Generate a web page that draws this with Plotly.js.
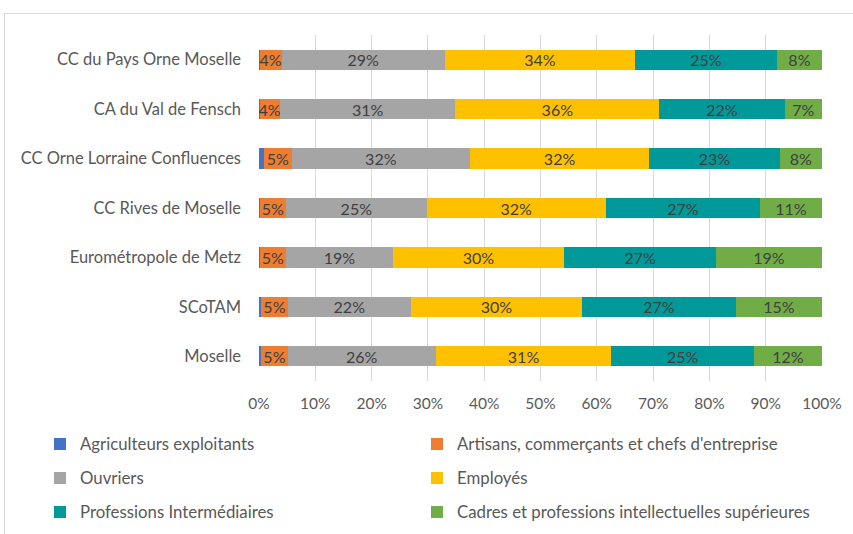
<!DOCTYPE html>
<html><head><meta charset="utf-8">
<script src="https://cdn.plot.ly/plotly-3.0.1.min.js"></script>
<style>
html,body{margin:0;padding:0;background:#fff;overflow:hidden}
#chart{position:absolute;left:0;top:0;width:853px;height:534px}
#frame{position:absolute;left:4px;top:13px;width:849px;height:521px;border-top:1px solid #d9d9d9;border-left:1px solid #d9d9d9;pointer-events:none}
</style></head>
<body><div id="chart"></div><div id="frame"></div>
<script>
const categories = ["CC du Pays Orne Moselle","CA du Val de Fensch","CC Orne Lorraine Confluences","CC Rives de Moselle","Eurométropole de Metz","SCoTAM","Moselle"];
const agriculteurs = [0.1,0.1,0.9,0.1,0.1,0.4,0.4];
const artisans     = [3.9,3.6,4.9,4.7,4.7,4.7,4.7];
const ouvriers     = [29.0,31.2,31.7,25.0,19.0,21.9,26.3];
const employes     = [33.8,36.2,31.8,31.8,30.4,30.4,31.2];
const profInter    = [25.2,22.3,23.2,27.4,27.0,27.3,25.3];
const cadres       = [8.0,6.6,7.5,11.0,18.8,15.3,12.1];
const seriesNames = ["Agriculteurs exploitants","Artisans, commerçants et chefs d'entreprise","Ouvriers","Employés","Professions Intermédiaires","Cadres et professions intellectuelles supérieures"];
const xTicks = [0,10,20,30,40,50,60,70,80,90,100];

const FONT = "Lato, 'Open Sans', sans-serif";
const colors = ["#4472C4","#ED7D31","#A5A5A5","#FFC000","#009999","#70AD47"];
const seriesVals = [agriculteurs, artisans, ouvriers, employes, profInter, cadres];
const legendIds = ["legend","legend2","legend3","legend4","legend5","legend6"];

const traces = seriesVals.map((vals, i) => ({
  type: 'bar', orientation: 'h',
  name: seriesNames[i],
  x: vals, y: categories,
  marker: {color: colors[i], line: {width: 0}},
  text: i === 0 ? null : vals.map(v => Math.round(v) + '%'),
  textposition: i === 0 ? 'none' : 'inside',
  insidetextanchor: 'middle',
  textangle: 0,
  constraintext: 'none',
  insidetextfont: {family: FONT, size: 16, color: '#404040'},
  hoverinfo: 'skip',
  legend: legendIds[i]
}));

// plot area: x 259..822, y 35..381
const pl = 259, pr = 822, pt = 35, pb = 381;
function px2x(px){ return (px - pl) / (pr - pl); }
function px2y(py){ return (pb - py) / (pb - pt); }
const legendTextX = [80, 457];
const legendRowY = [444, 478, 512];

const layout = {
  width: 853, height: 534,
  margin: {l: pl, r: 853 - pr, t: pt, b: 534 - pb, autoexpand: false},
  paper_bgcolor: '#ffffff', plot_bgcolor: '#ffffff',
  barmode: 'stack', bargap: 0.59,
  font: {family: FONT, size: 16, color: '#595959'},
  showlegend: true,
  xaxis: {
    range: [0, 100], tickvals: xTicks, ticktext: xTicks.map(v => v + '%'),
    showgrid: true, gridcolor: '#d9d9d9', gridwidth: 1,
    zeroline: false, showline: false, ticks: '',
    tickfont: {family: FONT, size: 15.5, color: '#595959'},
    ticklabelstandoff: 11, fixedrange: true
  },
  yaxis: {
    type: 'category', categoryorder: 'array', categoryarray: categories,
    autorange: 'reversed', showgrid: false, zeroline: false, showline: false, ticks: '',
    tickfont: {family: FONT, size: 16.5, color: '#595959'},
    ticklabelstandoff: 17, fixedrange: true
  }
};
legendIds.forEach((id, i) => {
  const col = i % 2, row = Math.floor(i / 2);
  layout[id] = {
    x: px2x(legendTextX[col] - 40), y: px2y(legendRowY[row]),
    xanchor: 'left', yanchor: 'middle',
    bgcolor: 'rgba(0,0,0,0)', borderwidth: 0,
    font: {family: FONT, size: 16.8, color: '#595959'},
    orientation: 'h'
  };
});

Plotly.newPlot('chart', traces, layout, {staticPlot: true, displayModeBar: false});
</script>
</body></html>
